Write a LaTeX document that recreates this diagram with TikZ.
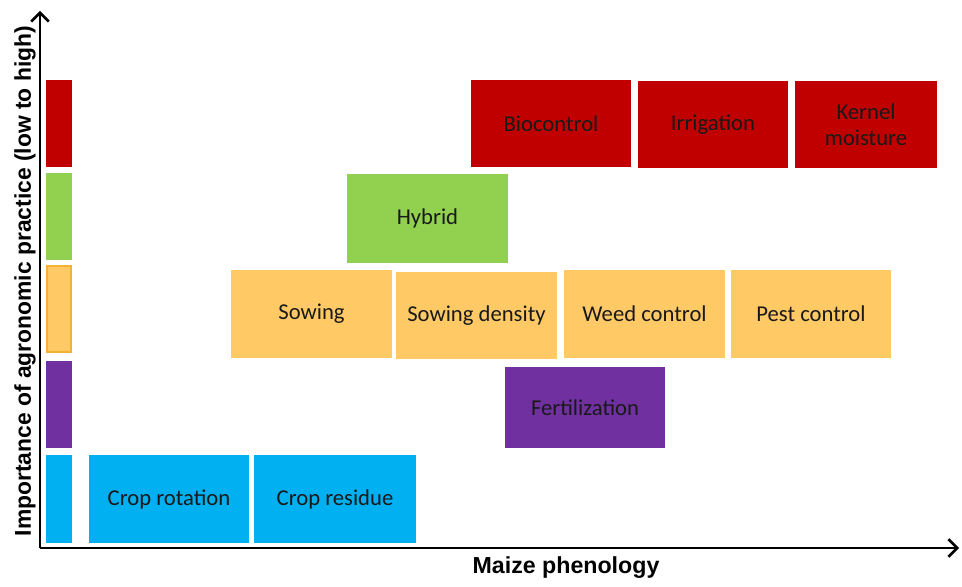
\documentclass[tikz,border=0pt]{standalone}
\usepackage{fontspec}
\setmainfont{Carlito}
\newfontfamily\axisfont{Liberation Sans}
\usepackage{xcolor}
\usepackage{tikz}
\usetikzlibrary{arrows.meta,fit,positioning}

\definecolor{agred}{HTML}{C00000}
\definecolor{aggreen}{HTML}{92D050}
\definecolor{agyellow}{HTML}{FFCA66}
\definecolor{agorange}{HTML}{F2B233}
\definecolor{agpurple}{HTML}{7030A0}
\definecolor{agblue}{HTML}{00B0F0}

\tikzset{
    practice/.style={inner sep=0pt, outer sep=0pt},
    practicetext/.style={align=center, text=black!90, font=\fontsize{12.9}{15}\selectfont},
    axisline/.style={line width=1.5pt, -{Straight Barb[length=5pt,width=10pt,line width=1.5pt]}},
}

\begin{document}
\begin{tikzpicture}[x=0.02cm, y=-0.02cm]
    \useasboundingbox (0,0) rectangle (962,587);

    % Legend bars
    \foreach \col/\ya/\yb/\nm in {agred/80/167/lr, aggreen/173/260/lg, agpurple/361/448/lp, agblue/455/543/lb} {
        \node (\nm) [practice, fill=\col, fit={(46,\ya) (72,\yb)}] {};
    }
    \node (ly) [practice, fill=agyellow, draw=agorange, line width=0.8pt, fit={(47,266) (71,352)}] {};

    % Practices: colour / corners / name / text
    \foreach \col/\xa/\ya/\xb/\yb/\nm/\txt in {
        agred/471/80/631/167/bio/Biocontrol,
        agred/638/81/788/168/irr/Irrigation,
        agred/795/81/937/168/kern/{Kernel\\moisture},
        aggreen/347/174/508/263/hyb/Hybrid,
        agyellow/231/270/392/358/sow/Sowing,
        agyellow/396/272/557/359/dens/Sowing density,
        agyellow/564/270/725/358/weed/Weed control,
        agyellow/731/270/891/358/pest/Pest control,
        agpurple/505/367/665/448/fert/Fertilization,
        agblue/89/455/249/543/rot/Crop rotation,
        agblue/254/455/416/543/res/Crop residue} {
        \node (\nm) [practice, fill=\col, fit={(\xa,\ya) (\xb,\yb)}] {};
        \node (\nm-t) [practicetext] at (\nm.center) {\txt};
    }

    % Axes
    \coordinate (o) at (40,548);
    \coordinate (ytop) at (40,11);
    \coordinate (xend) at (959,548);
    \draw[axisline] (o) -- (ytop);
    \draw[axisline] (o) -- (xend);
    \node (xlab) at (566,568) {\axisfont\bfseries\fontsize{13.2}{15}\selectfont Maize phenology};
    \node (ylab) [rotate=90] at (25,281) {\axisfont\bfseries\fontsize{13}{15}\selectfont Importance of agronomic practice (low to high)};
\end{tikzpicture}
\end{document}
